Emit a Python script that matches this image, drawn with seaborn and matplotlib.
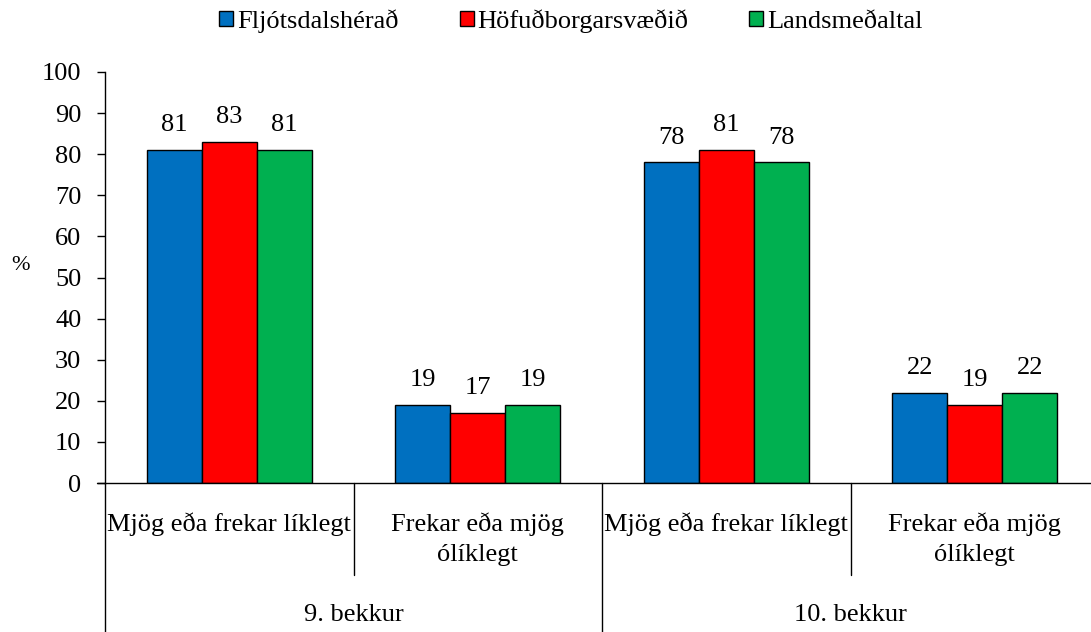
import matplotlib
matplotlib.use("Agg")
import matplotlib.pyplot as plt
import seaborn as sns
import pandas as pd

# Data
grades = ["9. bekkur", "9. bekkur", "10. bekkur", "10. bekkur"]
answers = ["Mjög eða frekar líklegt", "Frekar eða mjög\nólíklegt",
           "Mjög eða frekar líklegt", "Frekar eða mjög\nólíklegt"]
regions = ["Fljótsdalshérað", "Höfuðborgarsvæðið", "Landsmeðaltal"]
fljotsdalsherad = [81, 19, 78, 22]
hofudborgarsvaedid = [83, 17, 81, 19]
landsmedaltal = [81, 19, 78, 22]
colors = ["#0070C0", "#FF0000", "#00B050"]

keys = [f"{g} | {a}" for g, a in zip(grades, answers)]
rows = []
for region, vals in zip(regions, [fljotsdalsherad, hofudborgarsvaedid, landsmedaltal]):
    for k, v in zip(keys, vals):
        rows.append({"key": k, "region": region, "value": v})
df = pd.DataFrame(rows)

sns.set_theme(style="white")
plt.rcParams["font.family"] = ["Liberation Serif", "DejaVu Serif"]
FS = 19
plt.rcParams.update({"font.size": FS, "text.color": "black",
                     "ytick.color": "black", "xtick.color": "black",
                     "axes.labelcolor": "black"})

fig = plt.figure(figsize=(10.91, 6.32), dpi=100)
W, H = 1091, 632
left_px, right_px, top_px, bottom_px = 105, 1099, 72, 483
ax = fig.add_axes([left_px / W, (H - bottom_px) / H,
                   (right_px - left_px) / W, (bottom_px - top_px) / H])

sns.barplot(data=df, x="key", y="value", hue="region", order=keys,
            hue_order=regions, palette=colors, width=0.665, gap=0,
            edgecolor="black", linewidth=1.0, saturation=1, ax=ax,
            legend=True)

for cont in ax.containers:
    ax.bar_label(cont, fmt="%d", padding=10, fontsize=FS, color="black")

ax.set_ylim(0, 100)
ax.set_xlim(-0.5, 3.5)
ax.set_yticks(range(0, 101, 10))
ax.tick_params(axis="y", which="major", direction="out", length=6, width=1,
               color="black", labelcolor="black", labelsize=FS, pad=11, left=True)
ax.tick_params(axis="x", bottom=False, labelbottom=False)
ax.set_xlabel("")
ax.set_ylabel("")
for s in ["top", "right"]:
    ax.spines[s].set_visible(False)
for s in ["left", "bottom"]:
    ax.spines[s].set_color("black")
    ax.spines[s].set_linewidth(1)
ax.grid(False)

# zero line runs a little past the value axis, like a tick
ax.plot([-0.5 - 8 / 248.5, -0.5], [0, 0], color="black", lw=1, clip_on=False)

# "%" axis label
ax.text(-84 / 994, (483 - 265) / 411, "%", transform=ax.transAxes,
        ha="center", va="center", fontsize=16, color="black")

# category axis: inner and outer labels with separators
xt = ax.get_xaxis_transform()
px = 1 / 411
for i, a in enumerate(answers):
    ax.text(i, -29 * px, a, transform=xt, ha="center", va="top",
            fontsize=FS, linespacing=1.5, color="black")
for x in [0.5, 2.5]:
    ax.plot([x, x], [0, -92 * px], color="black", lw=1, transform=xt, clip_on=False)
for x in [-0.5, 1.5]:
    ax.plot([x, x], [0, -150 * px], color="black", lw=1, transform=xt, clip_on=False)
for c, g in zip([0.5, 2.5], ["9. bekkur", "10. bekkur"]):
    ax.text(c, -132 * px, g, transform=xt, ha="center", va="center",
            fontsize=FS, color="black")

# legend
handles, labels = ax.get_legend_handles_labels()
ax.legend_.remove()
leg = fig.legend(handles, labels, loc="center", bbox_to_anchor=(571 / W, 1 - 21 / H),
                 ncol=3, frameon=False, fontsize=FS, handlelength=0.53,
                 handleheight=0.53, handletextpad=0.15, columnspacing=2.3,
                 borderpad=0, borderaxespad=0, labelcolor="black")
for h in leg.legend_handles:
    h.set_edgecolor("black")
    h.set_linewidth(1)

fig.savefig("out.png", dpi=100)
